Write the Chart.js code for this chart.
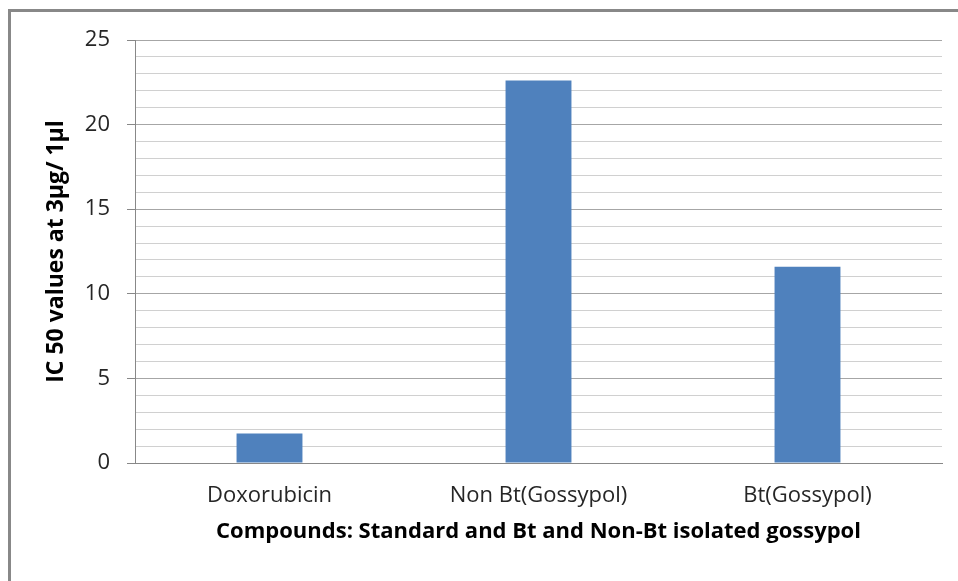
<!DOCTYPE html>
<html>
<head>
<meta charset="utf-8">
<script src="https://cdn.jsdelivr.net/npm/chart.js@4/dist/chart.umd.min.js"></script>
<style>
  html, body { margin: 0; padding: 0; background: #fff; }
  #wrap { position: relative; width: 958px; height: 581px; overflow: hidden; }
  #frame { position: absolute; left: 8px; top: 9px; width: 980px; height: 600px;
           border-left: 3px solid #888; border-top: 3px solid #888; box-sizing: border-box; }
  canvas { position: absolute; left: 0; top: 0; }
</style>
</head>
<body>
<div id="wrap">
  <div id="frame"></div>
  <canvas id="c" width="958" height="581"></canvas>
</div>
<script>
// Compounds tested and their IC50 values
const categories = ['Doxorubicin', 'Non Bt(Gossypol)', 'Bt(Gossypol)'];
const ic50Values = [1.75, 22.6, 11.6];
const yTickLabels = ['0', '5', '10', '15', '20', '25'];

const FONT = '"Open Sans", "Noto Sans", sans-serif';

new Chart(document.getElementById('c'), {
  type: 'bar',
  data: {
    labels: categories,
    datasets: [{
      data: ic50Values,
      backgroundColor: '#4F81BD',
      borderWidth: 0,
      categoryPercentage: 1,
      barPercentage: 0.245
    }]
  },
  options: {
    responsive: false,
    animation: false,
    devicePixelRatio: 1,
    layout: { padding: { top: 40, right: 16, left: 0, bottom: 0 } },
    plugins: { legend: { display: false }, tooltip: { enabled: false } },
    scales: {
      x: {
        grid: { display: false, drawTicks: false },
        border: { display: true, color: '#888', width: 1 },
        ticks: { color: '#262626', font: { family: FONT, size: 22 }, padding: 20, maxRotation: 0 },
        title: {
          display: true,
          text: 'Compounds: Standard and Bt and Non-Bt isolated gossypol',
          color: '#000',
          font: { family: FONT, size: 22, weight: 'bold' },
          padding: { top: 0, bottom: 36 }
        },
        afterFit(scale) { scale.height = 118; }
      },
      y: {
        min: 0,
        max: 25,
        ticks: {
          stepSize: 1,
          autoSkip: false,
          color: '#262626',
          font: { family: FONT, size: 22 },
          padding: 17,
          callback(v) {
            const s = String(v);
            return yTickLabels.includes(s) ? s : '';
          }
        },
        grid: {
          color(ctx) {
            const v = ctx.tick ? ctx.tick.value : 0;
            return v % 5 === 0 ? '#a6a6a6' : '#d0d0d0';
          },
          tickColor(ctx) {
            const v = ctx.tick ? ctx.tick.value : 0;
            return v % 5 === 0 ? '#888' : 'rgba(0,0,0,0)';
          },
          tickLength: 8,
          lineWidth: 1
        },
        border: { display: true, color: '#888', width: 1 },
        title: {
          display: true,
          text: 'IC 50 values at 3µg/ 1µl',
          color: '#000',
          font: { family: FONT, size: 23, weight: 'bold' },
          padding: { top: 43, bottom: 0 }
        },
        afterFit(scale) { scale.width = 135; }
      }
    }
  }
});
</script>
</body>
</html>
